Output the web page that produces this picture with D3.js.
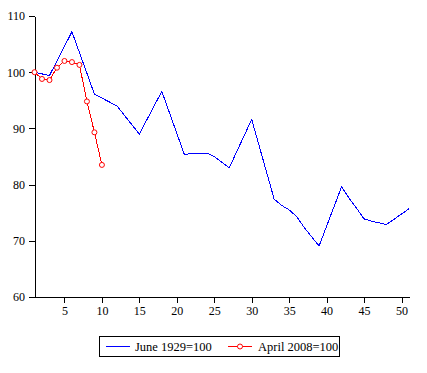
<!DOCTYPE html>
<html>
<head>
<meta charset="utf-8">
<script src="https://cdn.jsdelivr.net/npm/d3@7"></script>
<style>
  html, body { margin: 0; padding: 0; background: #fff; }
  svg { display: block; }
  text { font-family: "Liberation Serif", "Times New Roman", serif; fill: #000; }
</style>
</head>
<body>
<svg id="chart" width="427" height="373"></svg>
<script>
// ---- data ----
const seriesNames = ["June 1929=100", "April 2008=100"];
const blueMonths = [1, 3, 6, 9, 10, 12, 15, 18, 21, 22, 24, 25, 27, 30, 33, 34, 35, 36, 37, 38, 39, 42, 43, 44, 45, 46, 48, 51];
const blueValues = [100, 99.4, 107.2, 96.1, 95.4, 94.0, 89.0, 96.6, 85.4, 85.5, 85.6, 85.0, 83.0, 91.6, 77.4, 76.3, 75.5, 74.3, 72.4, 70.7, 69.1, 79.6, 77.6, 75.8, 73.9, 73.5, 72.9, 75.7];
const redMonths = [1, 2, 3, 4, 5, 6, 7, 8, 9, 10];
const redValues = [100, 98.8, 98.6, 100.8, 102.0, 101.8, 101.3, 94.8, 89.3, 83.5];
const xTicks = [5, 10, 15, 20, 25, 30, 35, 40, 45, 50];
const yTicks = [60, 70, 80, 90, 100, 110];

const svg = d3.select("#chart");

const x = d3.scaleLinear().domain([1, 51]).range([34.5, 409]);
const y = d3.scaleLinear().domain([60, 110]).range([297, 16]);

// axes
const xAxis = svg.append("g")
  .attr("transform", "translate(0,297)")
  .call(d3.axisBottom(x).tickValues(xTicks).tickSize(6).tickSizeOuter(0).tickPadding(3));
const yAxis = svg.append("g")
  .attr("transform", "translate(35,0)")
  .call(d3.axisLeft(y).tickValues(yTicks).tickSize(6).tickSizeOuter(0).tickPadding(4));

[xAxis, yAxis].forEach(a => {
  a.selectAll("path, line").attr("stroke", "#000").attr("shape-rendering", "crispEdges");
  a.selectAll("text").style("font-family", '"Liberation Serif", serif').style("font-size", "12px").attr("fill", "#000");
});

const line = d3.line().x(d => x(d[0])).y(d => y(d[1]));
const blueData = blueMonths.map((m, i) => [m, blueValues[i]]);
const redData = redMonths.map((m, i) => [m, redValues[i]]);

svg.append("path")
  .datum(blueData)
  .attr("fill", "none")
  .attr("stroke", "#0000ff")
  .attr("stroke-width", 1)
  .attr("shape-rendering", "crispEdges")
  .attr("d", line);

svg.append("path")
  .datum(redData)
  .attr("fill", "none")
  .attr("stroke", "#ff0000")
  .attr("stroke-width", 1)
  .attr("shape-rendering", "crispEdges")
  .attr("d", line);

svg.append("g").selectAll("circle")
  .data(redData)
  .join("circle")
  .attr("cx", d => x(d[0]))
  .attr("cy", d => y(d[1]))
  .attr("r", 2.5)
  .attr("fill", "#fff")
  .attr("stroke", "#ff0000")
  .attr("stroke-width", 1);

// legend
const lg = svg.append("g");
lg.append("rect")
  .attr("x", 99.5).attr("y", 336.5).attr("width", 240).attr("height", 20)
  .attr("fill", "#fff").attr("stroke", "#000").attr("stroke-width", 1)
  .attr("shape-rendering", "crispEdges");
lg.append("line")
  .attr("x1", 106).attr("x2", 130).attr("y1", 346.5).attr("y2", 346.5)
  .attr("stroke", "#0000ff").attr("stroke-width", 1);
lg.append("text")
  .attr("x", 135).attr("y", 351)
  .style("font-size", "12.5px")
  .text(seriesNames[0]);
lg.append("line")
  .attr("x1", 228).attr("x2", 252).attr("y1", 346.5).attr("y2", 346.5)
  .attr("stroke", "#ff0000").attr("stroke-width", 1);
lg.append("circle")
  .attr("cx", 240).attr("cy", 346.5).attr("r", 2.5)
  .attr("fill", "#fff").attr("stroke", "#ff0000").attr("stroke-width", 1);
lg.append("text")
  .attr("x", 258).attr("y", 351)
  .style("font-size", "12.5px")
  .text(seriesNames[1]);
</script>
</body>
</html>
